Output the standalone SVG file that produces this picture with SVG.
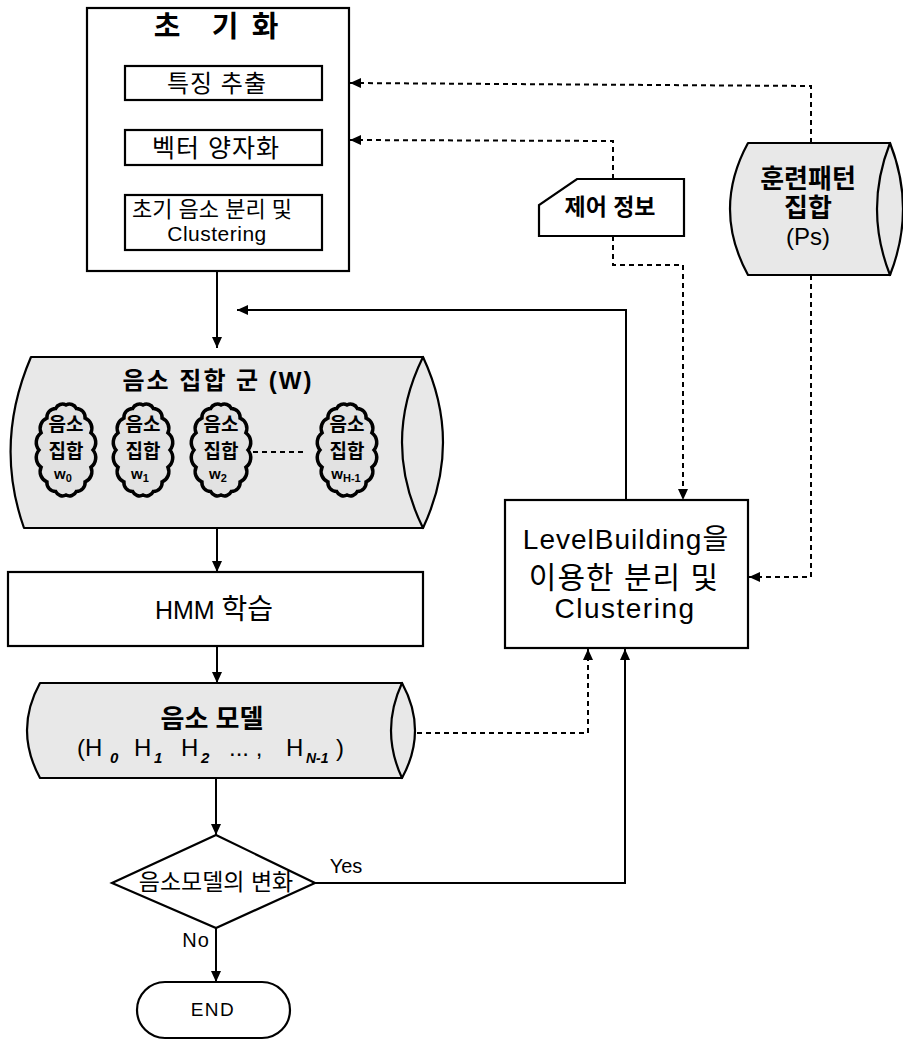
<svg xmlns="http://www.w3.org/2000/svg" width="903" height="1041" viewBox="0 0 903 1041">
<style>
text{font-family:"Liberation Sans","Noto Sans CJK KR",sans-serif;fill:#000;text-anchor:middle}
.kb{font-weight:bold}
.box{fill:#fff;stroke:#000;stroke-width:2.2}
.cyl{fill:#e8e8e8;stroke:#000;stroke-width:2.2;stroke-linejoin:round}
.cloud{fill:#e2e2e2;stroke:#000;stroke-width:3.5}
.ln{fill:none;stroke:#000;stroke-width:2}
.dash{fill:none;stroke:#000;stroke-width:2;stroke-dasharray:5 4}
</style>
<defs>
<marker id="ah" markerUnits="userSpaceOnUse" markerWidth="12" markerHeight="10" refX="11" refY="5" orient="auto">
<path d="M0,0 L11,5 L0,10 z" fill="#000"/>
</marker>
<path id="cloudShape" d="M27,0 A12,12 0 0 1 24.94,17.22 A11,11 0 0 1 19.09,31.82 A9,9 0 0 1 10.33,41.57 A7.5,7.5 0 0 1 0,45 A7.5,7.5 0 0 1 -10.33,41.57 A9,9 0 0 1 -19.09,31.82 A11,11 0 0 1 -24.94,17.22 A12,12 0 0 1 -27,0 A12,12 0 0 1 -24.94,-17.22 A11,11 0 0 1 -19.09,-31.82 A9,9 0 0 1 -10.33,-41.57 A7.5,7.5 0 0 1 0,-45 A7.5,7.5 0 0 1 10.33,-41.57 A9,9 0 0 1 19.09,-31.82 A11,11 0 0 1 24.94,-17.22 A12,12 0 0 1 27,0 Z"/>
</defs>
<rect width="903" height="1041" fill="#fff"/>

<g id="connectors">
<line class="ln" x1="219" y1="100" x2="219" y2="130" marker-end="url(#ah)"/>
<line class="ln" x1="219" y1="165" x2="219" y2="195" marker-end="url(#ah)"/>
<line class="ln" x1="217" y1="271" x2="217" y2="348" marker-end="url(#ah)"/>
<polyline class="ln" points="626,500 626,310 237,310" marker-end="url(#ah)"/>
<line class="ln" x1="217" y1="528" x2="217" y2="572" marker-end="url(#ah)"/>
<line class="ln" x1="217" y1="646" x2="217" y2="683" marker-end="url(#ah)"/>
<line class="ln" x1="216" y1="778" x2="216" y2="835" marker-end="url(#ah)"/>
<line class="ln" x1="216" y1="928" x2="216" y2="982" marker-end="url(#ah)"/>
<polyline class="ln" points="315,883 625,883 625,649" marker-end="url(#ah)"/>
<polyline class="dash" points="417,733 588,733 588,649" marker-end="url(#ah)"/>
<polyline class="dash" points="613,179 613,141 350,140" marker-end="url(#ah)"/>
<polyline class="dash" points="811,143 811,86 350,83" marker-end="url(#ah)"/>
<polyline class="dash" points="613,236 613,265 683,265 683,500" marker-end="url(#ah)"/>
<polyline class="dash" points="811,275 811,577 749,577" marker-end="url(#ah)"/>
<text x="346" y="873" font-size="20">Yes</text>
<text x="196" y="947" font-size="20" letter-spacing="1">No</text>
</g>

<g id="init">
<rect class="box" x="87" y="8" width="262" height="263"/>
<text class="kb" x="167 225 265" y="37" font-size="29">초기화</text>
</g>
<g id="feature">
<rect class="box" x="125" y="66" width="197" height="34"/>
<text x="217" y="92" font-size="24" letter-spacing="1">특징 추출</text>
</g>
<g id="vq">
<rect class="box" x="125" y="130" width="197" height="35"/>
<text x="216" y="157" font-size="25" letter-spacing="1">벡터 양자화</text>
</g>
<g id="initsplit">
<rect class="box" x="125" y="195" width="197" height="55"/>
<text x="212" y="217" font-size="22">초기 음소 분리 및</text>
<text x="217" y="241" font-size="21" letter-spacing="0.5">Clustering</text>
</g>

<g id="control">
<polygon class="box" points="577,179 684,179 684,236 539,236 539,205"/>
<text class="kb" x="610" y="215" font-size="23">제어 정보</text>
</g>

<g id="trainset">
<path class="cyl" d="M748,143 L890,143 L890,275 L748,275 Q712,209 748,143 Z"/>
<path class="cyl" d="M890,143 Q864,209 890,275 Q916,209 890,143 Z"/>
<text class="kb" x="808" y="188" font-size="26">훈련패턴</text>
<text class="kb" x="808" y="217" font-size="26">집합</text>
<text x="808" y="245" font-size="24">(Ps)</text>
</g>

<g id="phonemeSets">
<path class="cyl" d="M31,357 L423,357 L423,528 L24,528 Q-6,443 31,357 Z"/>
<path class="cyl" d="M423,357 Q381,442.5 423,528 Q463,442.5 423,357 Z"/>
<text class="kb" x="218" y="389" font-size="24" letter-spacing="2">음소 집합 군 (W)</text>
<line class="dash" x1="253" y1="452" x2="307" y2="452"/>
</g>
<g id="w0">
<use href="#cloudShape" class="cloud" transform="translate(66,450)"/>
<text class="kb" x="66" y="431" font-size="19">음소</text>
<text class="kb" x="66" y="458" font-size="19">집합</text>
<text class="kb" x="63" y="479" font-size="15">w<tspan font-size="11" dy="3">0</tspan></text>
</g>
<g id="w1">
<use href="#cloudShape" class="cloud" transform="translate(143,450)"/>
<text class="kb" x="143" y="431" font-size="19">음소</text>
<text class="kb" x="143" y="458" font-size="19">집합</text>
<text class="kb" x="140" y="479" font-size="15">w<tspan font-size="11" dy="3">1</tspan></text>
</g>
<g id="w2">
<use href="#cloudShape" class="cloud" transform="translate(221,450)"/>
<text class="kb" x="221" y="431" font-size="19">음소</text>
<text class="kb" x="221" y="458" font-size="19">집합</text>
<text class="kb" x="218" y="479" font-size="15">w<tspan font-size="11" dy="3">2</tspan></text>
</g>
<g id="wN">
<use href="#cloudShape" class="cloud" transform="translate(347,450)"/>
<text class="kb" x="347" y="431" font-size="19">음소</text>
<text class="kb" x="347" y="458" font-size="19">집합</text>
<text class="kb" x="346" y="479" font-size="15">w<tspan font-size="11" dy="3">H-1</tspan></text>
</g>

<g id="hmm">
<rect class="box" x="8" y="572" width="415" height="74"/>
<text x="214" y="619"><tspan font-size="25">HMM </tspan><tspan font-size="28">학습</tspan></text>
</g>

<g id="phonemeModel">
<path class="cyl" d="M40,683 L402,683 L402,778 L40,778 Q14,730 40,683 Z"/>
<path class="cyl" d="M402,683 Q380,730.5 402,778 Q428,730.5 402,683 Z"/>
<text class="kb" x="212" y="728" font-size="26">음소 모델</text>
<text font-size="24" style="text-anchor:start"><tspan x="77" y="756">(H</tspan><tspan x="110" y="763" font-size="15" font-weight="bold" font-style="italic">0</tspan><tspan x="134" y="756">H</tspan><tspan x="154" y="763" font-size="15" font-weight="bold" font-style="italic">1</tspan><tspan x="181" y="756">H</tspan><tspan x="201" y="763" font-size="15" font-weight="bold" font-style="italic">2</tspan><tspan x="229" y="756">... ,</tspan><tspan x="286" y="756">H</tspan><tspan x="306" y="763" font-size="14" font-weight="bold" font-style="italic">N-1</tspan><tspan x="336" y="756">)</tspan></text>
</g>

<g id="levelBuilding">
<rect class="box" x="505" y="500" width="243" height="148"/>
<text x="626" y="549" font-size="28" letter-spacing="1">LevelBuilding을</text>
<text x="624" y="588" font-size="30" letter-spacing="1">이용한 분리 및</text>
<text x="625" y="618" font-size="28" letter-spacing="1.5">Clustering</text>
</g>

<g id="decision">
<polygon class="box" points="216,835 315,883 216,928 112,883"/>
<text x="216" y="890" font-size="23">음소모델의 변화</text>
</g>

<g id="end">
<rect class="box" x="137" y="982" width="153" height="56" rx="28"/>
<text x="213" y="1016" font-size="19" letter-spacing="1.5">END</text>
</g>
</svg>
